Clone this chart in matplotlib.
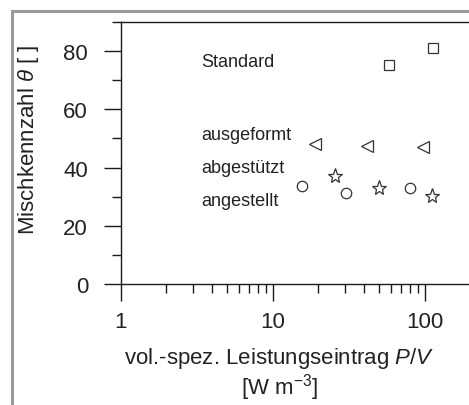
import matplotlib
matplotlib.use("Agg")
import matplotlib.pyplot as plt
from matplotlib.ticker import FixedLocator, LogLocator, NullFormatter, FixedFormatter
from matplotlib.patches import Rectangle

plt.rcParams['font.family'] = ['Liberation Sans', 'DejaVu Sans']
plt.rcParams['mathtext.fontset'] = 'custom'
plt.rcParams['mathtext.it'] = 'Liberation Sans:italic'
plt.rcParams['mathtext.rm'] = 'Liberation Sans'

# Data
standard_x = [58.5, 114]
standard_y = [75.1, 81.2]
ausgeformt_x = [19.0, 41.9, 97.0]
ausgeformt_y = [48.0, 47.4, 46.9]
abgestuetzt_x = [25.7, 50.3, 111]
abgestuetzt_y = [37.1, 32.9, 30.1]
angestellt_x = [15.5, 30.2, 80.0]
angestellt_y = [33.7, 31.2, 32.9]

labels = ["Standard", "ausgeformt", "abgestützt", "angestellt"]
label_y = [76.5, 51.4, 40.0, 28.6]
y_ticks = [0, 20, 40, 60, 80]
y_minor = [10, 30, 50, 70, 90]
x_ticks = [1, 10, 100]
x_ticklabels = ["1", "10", "100"]

W, H = 469, 406
fig = plt.figure(figsize=(W / 100, H / 100), dpi=100)
fig.patch.set_facecolor('white')

# outer frame
fig.patches.append(Rectangle((11.5 / W, -0.1), 1.2, 1.1 - 11.5 / H, transform=fig.transFigure,
                             fill=False, edgecolor='#9a9a9a', linewidth=2.2, zorder=0))

left_px, right_px, bottom_px, top_px = 120.7, 469, 285, 23
ax = fig.add_axes([left_px / W, (H - bottom_px) / H, (right_px - left_px) / W, (bottom_px - top_px) / H])

col = '#333333'
tcol = '#222222'
ms_kw = dict(linestyle='none', markerfacecolor='none', markeredgecolor=col, markeredgewidth=0.9, clip_on=False)
ax.plot(standard_x, standard_y, marker='s', markersize=7, **ms_kw)
ax.plot(ausgeformt_x, ausgeformt_y, marker='<', markersize=8.5, **ms_kw)
ax.plot(abgestuetzt_x, abgestuetzt_y, marker='*', markersize=11, **ms_kw)
ax.plot(angestellt_x, angestellt_y, marker='o', markersize=7.5, **ms_kw)

ax.set_xscale('log')
ax.set_xlim(1, 10 ** ((right_px - left_px) / 152.0))
ax.set_ylim(0, 90)

ax.spines['right'].set_visible(False)
for s in ['left', 'bottom', 'top']:
    ax.spines[s].set_color('#1a1a1a')
    ax.spines[s].set_linewidth(1.0)

ax.xaxis.set_major_locator(FixedLocator(x_ticks))
ax.xaxis.set_major_formatter(FixedFormatter(x_ticklabels))
ax.xaxis.set_minor_locator(LogLocator(base=10, subs=range(2, 10)))
ax.xaxis.set_minor_formatter(NullFormatter())
ax.yaxis.set_major_locator(FixedLocator(y_ticks))
ax.yaxis.set_minor_locator(FixedLocator(y_minor))

ax.tick_params(which='major', direction='out', length=12.5, width=1.0, color='#1a1a1a',
               labelsize=16, labelcolor=tcol)
ax.tick_params(which='minor', direction='out', length=6.2, width=1.0, color='#1a1a1a')
ax.tick_params(axis='x', which='major', pad=7)
ax.tick_params(axis='y', which='major', pad=11)
ax.tick_params(top=False, right=False, which='both')

lab_x_px = 201
for lab, ly in zip(labels, label_y):
    ax.text((lab_x_px - left_px) / (right_px - left_px), ly / 90.0, lab, transform=ax.transAxes,
            fontsize=13, color=tcol, va='center', ha='left')

fig.text(28.5 / W, 1 - 140 / H, r'Mischkennzahl $\theta$ [ ]', fontsize=16, color=tcol,
         rotation=90, ha='center', va='center')
fig.text(279.5 / W, 1 - 364 / H, r'vol.-spez. Leistungseintrag $P/V$', fontsize=16, color=tcol,
         ha='center', va='baseline')
fig.text(279.5 / W, 1 - 395 / H, r'[W m$^{-3}$]', fontsize=16, color=tcol, ha='center', va='baseline')

fig.savefig('out.png', dpi=100, facecolor='white')
